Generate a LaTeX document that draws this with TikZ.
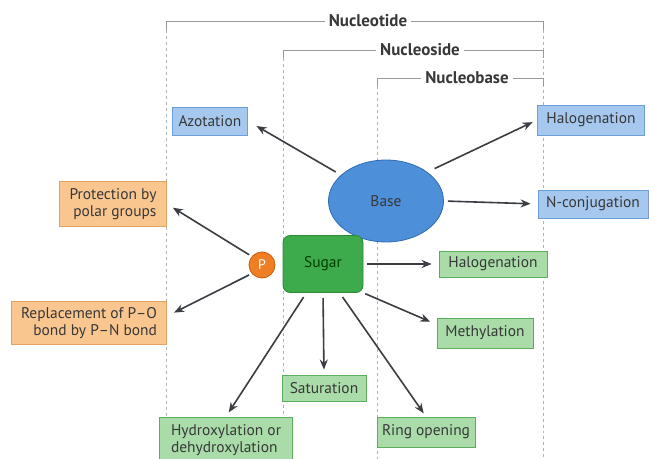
\documentclass[tikz,border=0pt]{standalone}
\usepackage{fontspec}
\setmainfont{PT Sans}
\usetikzlibrary{arrows.meta,shapes.geometric}

\definecolor{bluefill}{HTML}{A6C8EE}
\definecolor{blueline}{HTML}{6C9FD6}
\definecolor{greenfill}{HTML}{A9DCA9}
\definecolor{greenline}{HTML}{5CAE5C}
\definecolor{orangefill}{HTML}{F9C690}
\definecolor{orangeline}{HTML}{E3A466}
\definecolor{basefill}{HTML}{4D8FD8}
\definecolor{baseline}{HTML}{2F6CB3}
\definecolor{sugarfill}{HTML}{3DAA4B}
\definecolor{sugarline}{HTML}{2A8A38}
\definecolor{pfill}{HTML}{F07E22}
\definecolor{pline}{HTML}{C85A10}
\definecolor{textgray}{HTML}{383838}
\definecolor{arrowgray}{HTML}{3A3D42}

\tikzset{
  modbox/.style={draw, line width=0.8bp, minimum height=28bp, inner sep=2bp,
    text=textgray, font=\fontsize{15.5}{17}\selectfont},
  bluebox/.style={modbox, draw=blueline, fill=bluefill},
  greenbox/.style={modbox, draw=greenline, fill=greenfill},
  orangebox/.style={modbox, draw=orangeline, fill=orangefill},
  bracketlabel/.style={fill=white, inner xsep=4bp, text=textgray,
    font=\bfseries\fontsize{17}{19}\selectfont},
  link/.style={->, draw=arrowgray, line width=1.6bp},
}

\begin{document}
\begin{tikzpicture}[x=1bp, y=-1bp, >={Stealth[length=10bp,width=8bp]}]
\useasboundingbox (0,0) rectangle (649,459);
\fill[white] (0,0) rectangle (649,459);

% brackets
\draw[gray!60, dashed] (166,30) -- (166,459);
\draw[gray!60, dashed] (283,58) -- (283,459);
\draw[gray!60, dashed] (377,86) -- (377,459);
\draw[gray!60, dashed] (543,30) -- (543,459);
\draw[gray!80, line width=0.8bp] (166,30) |- (543,21) -- (543,30);
\draw[gray!80, line width=0.8bp] (283,58) |- (543,50) -- (543,58);
\draw[gray!80, line width=0.8bp] (377,86) |- (543,78) -- (543,86);
\node[bracketlabel] (nucleotide) at (368,21) {Nucleotide};
\node[bracketlabel] (nucleoside) at (420,50) {Nucleoside};
\node[bracketlabel] (nucleobase) at (467,78) {Nucleobase};

% base and its modifications
\node[ellipse, draw=baseline, fill=basefill, line width=0.8bp, minimum width=115bp,
  minimum height=82bp, text=textgray, font=\fontsize{15.5}{17}\selectfont] (base) at (386,201) {Base};
\node[bluebox, minimum width=75bp] (azot) at (210,121) {Azotation};
\node[bluebox, minimum width=107bp, minimum height=30bp] (halob) at (591,120) {Halogenation};
\node[bluebox, minimum width=110bp] (nconj) at (593,204) {N-conjugation};

% sugar and phosphate
\node[draw=sugarline, fill=sugarfill, rounded corners=7bp, line width=0.8bp, minimum width=80bp,
  minimum height=57bp, text=black!75!green, font=\fontsize{15.5}{17}\selectfont] (sugar) at (323,264) {Sugar};
\node[circle, draw=pline, fill=pfill, line width=0.8bp, minimum size=26bp, inner sep=0pt,
  text=white, font=\fontsize{14}{16}\selectfont] (p) at (262,265) {P};

\node[orangebox, minimum width=107bp, minimum height=45bp, align=right] (prot) at (113,204) {Protection by\\polar groups};
\node[orangebox, minimum width=155bp, minimum height=43bp, align=right] (repl) at (89,323) {Replacement of P--O\\bond by P--N bond};

\node[greenbox, minimum width=108bp, minimum height=26bp] (halog) at (493,264) {Halogenation};
\node[greenbox, minimum width=96bp, minimum height=30bp] (meth) at (485,333) {Methylation};
\node[greenbox, minimum width=84bp, minimum height=26bp] (sat) at (324,388) {Saturation};
\node[greenbox, minimum width=133bp, minimum height=46bp, align=left] (hydr) at (226,440) {Hydroxylation or\\dehydroxylation};
\node[greenbox, minimum width=98bp, minimum height=30bp] (ring) at (426,432) {Ring opening};

% arrows
\draw[link, shorten <=6bp, shorten >=10bp] (base.150) -- (azot.east);
\draw[link, shorten <=8bp, shorten >=5bp] (base.35) -- (halob.west);
\draw[link, shorten <=4bp, shorten >=7bp] (base.east) -- (nconj.west);
\draw[link, shorten <=3bp, shorten >=7bp] (p.140) -- (prot.east);
\draw[link, shorten <=3bp, shorten >=8bp] (p.220) -- (repl.5);
\draw[link, shorten <=4bp, shorten >=7bp] (sugar.east) -- (halog.west);
\draw[link, shorten <=2bp, shorten >=7bp] (sugar.south east) -- (meth.170);
\draw[link, shorten <=5bp, shorten >=5bp] (sugar.south) -- (sat.north);
\draw[link, shorten <=5bp, shorten >=5bp] (sugar.-120) -- (hydr.north);
\draw[link, shorten <=5bp, shorten >=4bp] (sugar.-60) -- (ring.north);
\end{tikzpicture}
\end{document}
